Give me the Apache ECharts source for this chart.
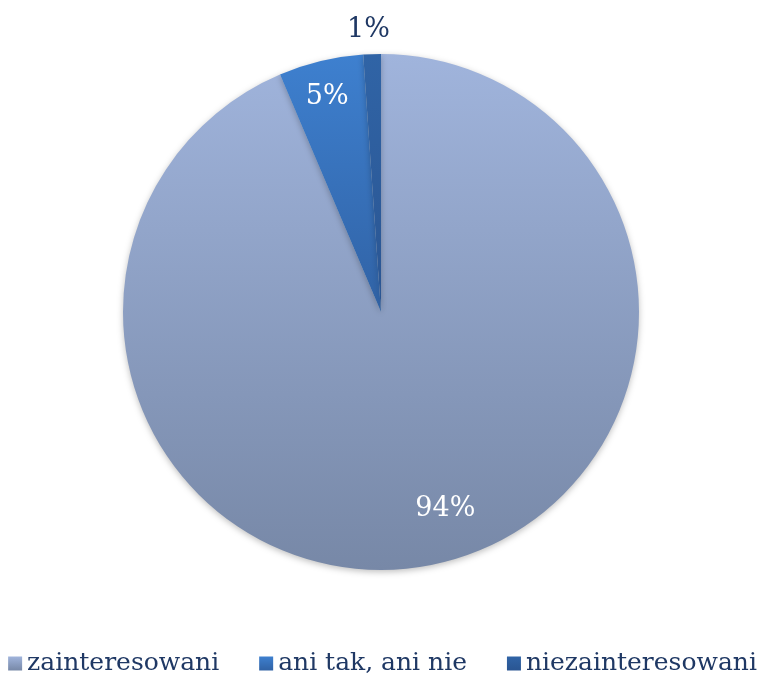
<!DOCTYPE html>
<html>
<head>
<meta charset="utf-8">
<script src="https://cdn.jsdelivr.net/npm/echarts@6/dist/echarts.min.js"></script>
<style>
html,body{margin:0;padding:0;background:#fff;}
#chart{width:765px;height:676px;}
</style>
</head>
<body>
<div id="chart"></div>
<script>
var categories = ['zainteresowani', 'ani tak, ani nie', 'niezainteresowani'];
var values = [93.6, 5.3, 1.1];

var gradients = [
  ['#A0B4DC', '#7788A7'],
  ['#3E80CF', '#3062A5'],
  ['#3064A6', '#2A5592']
];
var labelColors = ['#ffffff', '#ffffff', '#1F3864'];
var labelShift = [[38, 68], [-23, -87], [-8, -150]];

var chart = echarts.init(document.getElementById('chart'), null, {renderer: 'canvas'});
var data = categories.map(function (c, i) {
  return {
    name: c,
    value: values[i],
    itemStyle: {
      color: new echarts.graphic.LinearGradient(0, 0, 0, 1, [
        {offset: 0, color: gradients[i][0]},
        {offset: 1, color: gradients[i][1]}
      ])
    },
    label: {color: labelColors[i]}
  };
});

chart.setOption({
  animation: false,
  legend: {
    bottom: -5,
    left: 'center',
    icon: 'rect',
    itemWidth: 14,
    itemHeight: 14,
    itemGap: 40,
    textStyle: {fontFamily: 'DejaVu Serif', fontSize: 25, color: '#1F3864'},
    data: categories
  },
  series: [{
    type: 'pie',
    center: [381, 312],
    radius: [0, 258],
    startAngle: 90,
    clockwise: true,
    percentPrecision: 0,
    data: data,
    itemStyle: {
      shadowBlur: 6,
      shadowOffsetY: 2,
      shadowColor: 'rgba(0,0,0,0.25)'
    },
    label: {
      show: true,
      position: 'inside',
      formatter: '{d}%',
      fontFamily: 'DejaVu Serif',
      fontSize: 27
    },
    labelLine: {show: false},
    labelLayout: function (p) {
      var s = labelShift[p.dataIndex];
      return {dx: s[0], dy: s[1]};
    }
  }]
});
</script>
</body>
</html>
